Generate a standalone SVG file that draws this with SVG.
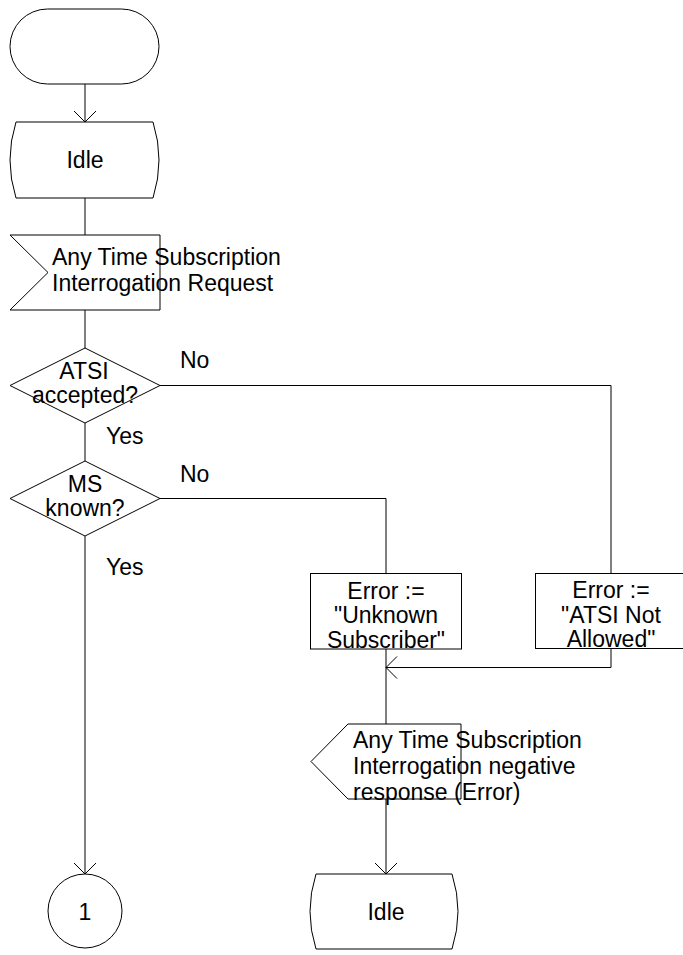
<svg xmlns="http://www.w3.org/2000/svg" width="683" height="955" viewBox="0 0 683 955">
<style>
.s{fill:#fff;stroke:#000;stroke-width:1}
.c{fill:none;stroke:#000;stroke-width:1}
text{font-family:"Liberation Sans",Arial,sans-serif;font-size:23px;fill:#000}
.m{text-anchor:middle}
</style>
<defs>
<marker id="arr" markerUnits="userSpaceOnUse" markerWidth="30" markerHeight="30" viewBox="-15 -15 30 30" refX="0" refY="0" orient="auto">
<path d="M-11,-11 L0,0 L-11,11" fill="none" stroke="#000" stroke-width="1"/>
</marker>
</defs>
<g id="connectors">
<path class="c" d="M85,84 V122" marker-end="url(#arr)"/>
<path class="c" d="M85,198 V235"/>
<path class="c" d="M85,310 V348"/>
<path class="c" d="M160,385.5 H611 V573.5"/>
<path class="c" d="M85,423 V461"/>
<path class="c" d="M160,498.5 H386 V573.5"/>
<path class="c" d="M85,536 V874" marker-end="url(#arr)"/>
<path class="c" d="M386,649 V724"/>
<path class="c" d="M611,648.5 V667.5 H386" marker-end="url(#arr)"/>
<path class="c" d="M386,799 V874" marker-end="url(#arr)"/>
</g>
<g id="start">
<rect class="s" x="10" y="9" width="149" height="75" rx="37.5" ry="37.5"/>
</g>
<g id="idle1">
<path class="s" d="M16,122 H153 Q165,160 153,198 H16 Q4,160 16,122 Z"/>
<text class="m" x="85" y="168">Idle</text>
</g>
<g id="input-request">
<path class="s" d="M10,235 H160 V310 H10 L48,272.5 Z"/>
<text x="52" y="265">Any Time Subscription</text>
<text x="52" y="291">Interrogation Request</text>
</g>
<g id="atsi-accepted">
<path class="s" d="M85,348 L160,385.5 L85,423 L10,385.5 Z"/>
<text class="m" x="84" y="379">ATSI</text>
<text class="m" x="85" y="403">accepted?</text>
<text x="180" y="368">No</text>
<text x="106" y="444">Yes</text>
</g>
<g id="ms-known">
<path class="s" d="M85,461 L160,498.5 L85,536 L10,498.5 Z"/>
<text class="m" x="85" y="492">MS</text>
<text class="m" x="85" y="516">known?</text>
<text x="180" y="482">No</text>
<text x="106" y="575">Yes</text>
</g>
<g id="error-unknown">
<rect class="s" x="310.5" y="573.5" width="151" height="75.5"/>
<text class="m" x="386" y="599">Error :=</text>
<text class="m" x="386" y="623">"Unknown</text>
<text class="m" x="386" y="648">Subscriber"</text>
</g>
<g id="error-atsi">
<rect class="s" x="535.5" y="573.5" width="151" height="75"/>
<text class="m" x="611" y="598">Error :=</text>
<text class="m" x="611" y="623">"ATSI Not</text>
<text class="m" x="611" y="647">Allowed"</text>
</g>
<g id="output-negative">
<path class="s" d="M348,724 H461 V799 H348 L311,761.5 Z"/>
<text x="353" y="748">Any Time Subscription</text>
<text x="353" y="774">Interrogation negative</text>
<text x="353" y="800">response (Error)</text>
</g>
<g id="connector-1">
<circle class="s" cx="85" cy="911" r="37"/>
<text class="m" x="85" y="920">1</text>
</g>
<g id="idle2">
<path class="s" d="M316,874 H452 Q464,911.5 452,949 H316 Q304,911.5 316,874 Z"/>
<text class="m" x="386" y="920">Idle</text>
</g>
</svg>
